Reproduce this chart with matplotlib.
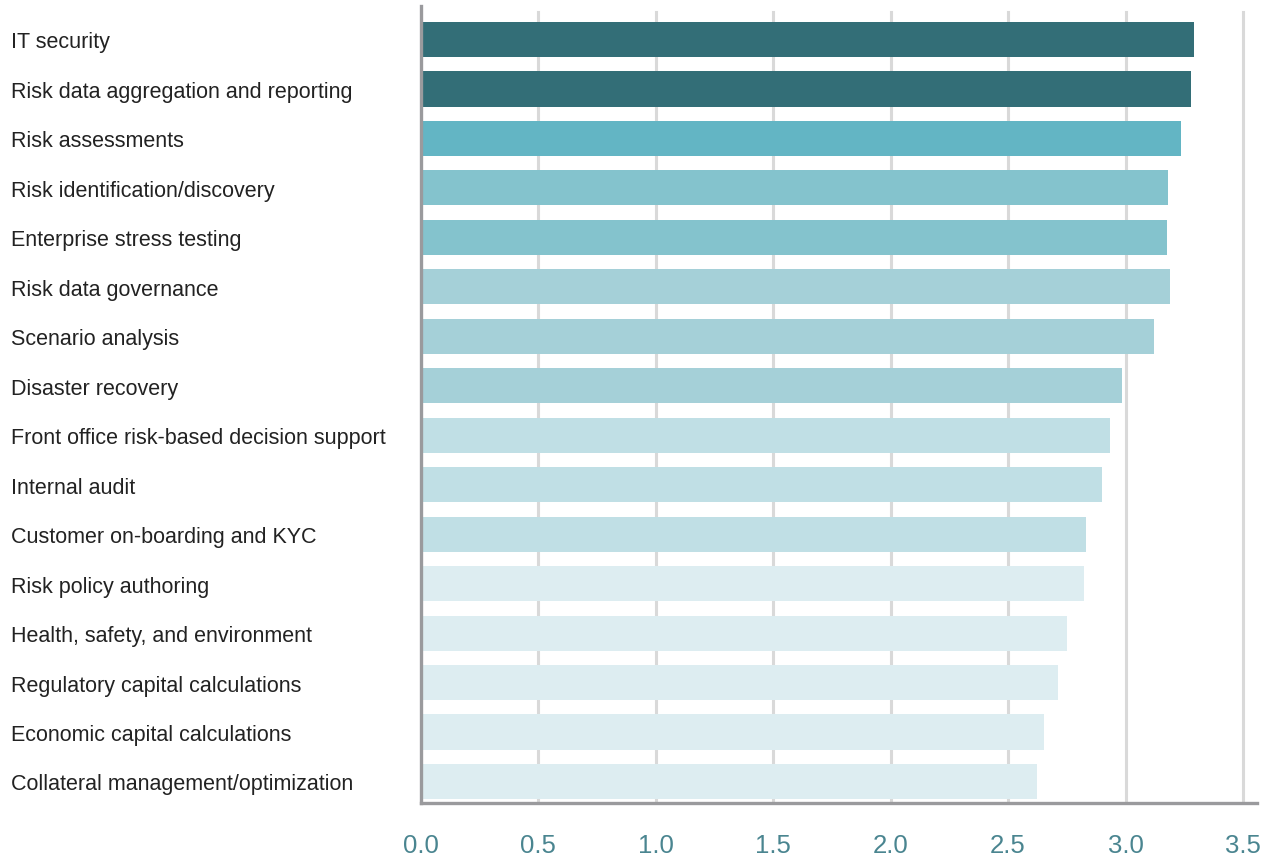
import matplotlib
matplotlib.use("Agg")
import matplotlib.pyplot as plt
from matplotlib import transforms

# capability areas, top to bottom
areas = [
    "IT security",
    "Risk data aggregation and reporting",
    "Risk assessments",
    "Risk identification/discovery",
    "Enterprise stress testing",
    "Risk data governance",
    "Scenario analysis",
    "Disaster recovery",
    "Front office risk-based decision support",
    "Internal audit",
    "Customer on-boarding and KYC",
    "Risk policy authoring",
    "Health, safety, and environment",
    "Regulatory capital calculations",
    "Economic capital calculations",
    "Collateral management/optimization",
]
scores = [3.29, 3.28, 3.235, 3.18, 3.177, 3.19, 3.12, 2.985, 2.933, 2.90,
          2.832, 2.822, 2.75, 2.713, 2.653, 2.623]
bar_colors = ["#336e77", "#336e77", "#63b5c4", "#84c3cd", "#84c3cd",
              "#a5d0d8", "#a5d0d8", "#a5d0d8", "#c0dfe5", "#c0dfe5",
              "#c0dfe5", "#ddedf1", "#ddedf1", "#ddedf1", "#ddedf1", "#ddedf1"]
x_ticks = [0.0, 0.5, 1.0, 1.5, 2.0, 2.5, 3.0, 3.5]

plt.rcParams['font.family'] = ['Liberation Sans', 'DejaVu Sans']

fig = plt.figure(figsize=(12.71, 8.59), dpi=100)
ax = fig.add_axes([0.3312, 0.0652, 0.6578, 0.9278])

pos = list(range(len(areas)))
ax.barh(pos, scores, height=0.71, color=bar_colors, zorder=3)

ax.set_xlim(0, 3.56)
ax.set_ylim(len(areas) - 1 + 0.435, -0.677)

# vertical guides stop a little below the top of the left spine
for t in x_ticks[1:]:
    ax.axvline(t, ymin=0, ymax=0.9925, color="#d9d9d9", lw=2.2, zorder=1)

for side in ["top", "right"]:
    ax.spines[side].set_visible(False)
for side in ["left", "bottom"]:
    ax.spines[side].set_color("#9a9a9d")
    ax.spines[side].set_linewidth(2.4)
    ax.spines[side].set_zorder(4)

ax.set_xticks(x_ticks)
ax.set_xticklabels([f"{t:.1f}" for t in x_ticks])
ax.tick_params(axis="x", length=0, pad=22, labelsize=18.5, labelcolor="#4a8590")
ax.set_yticks([])

# category labels, left aligned near the figure edge
label_tr = transforms.blended_transform_factory(fig.transFigure, ax.transData)
for i, name in enumerate(areas):
    ax.text(11 / 1271, i + 0.07, name, transform=label_tr, ha="left", va="center",
            fontsize=15.5, color="#222222", clip_on=False)

fig.savefig("out.png", dpi=100)
